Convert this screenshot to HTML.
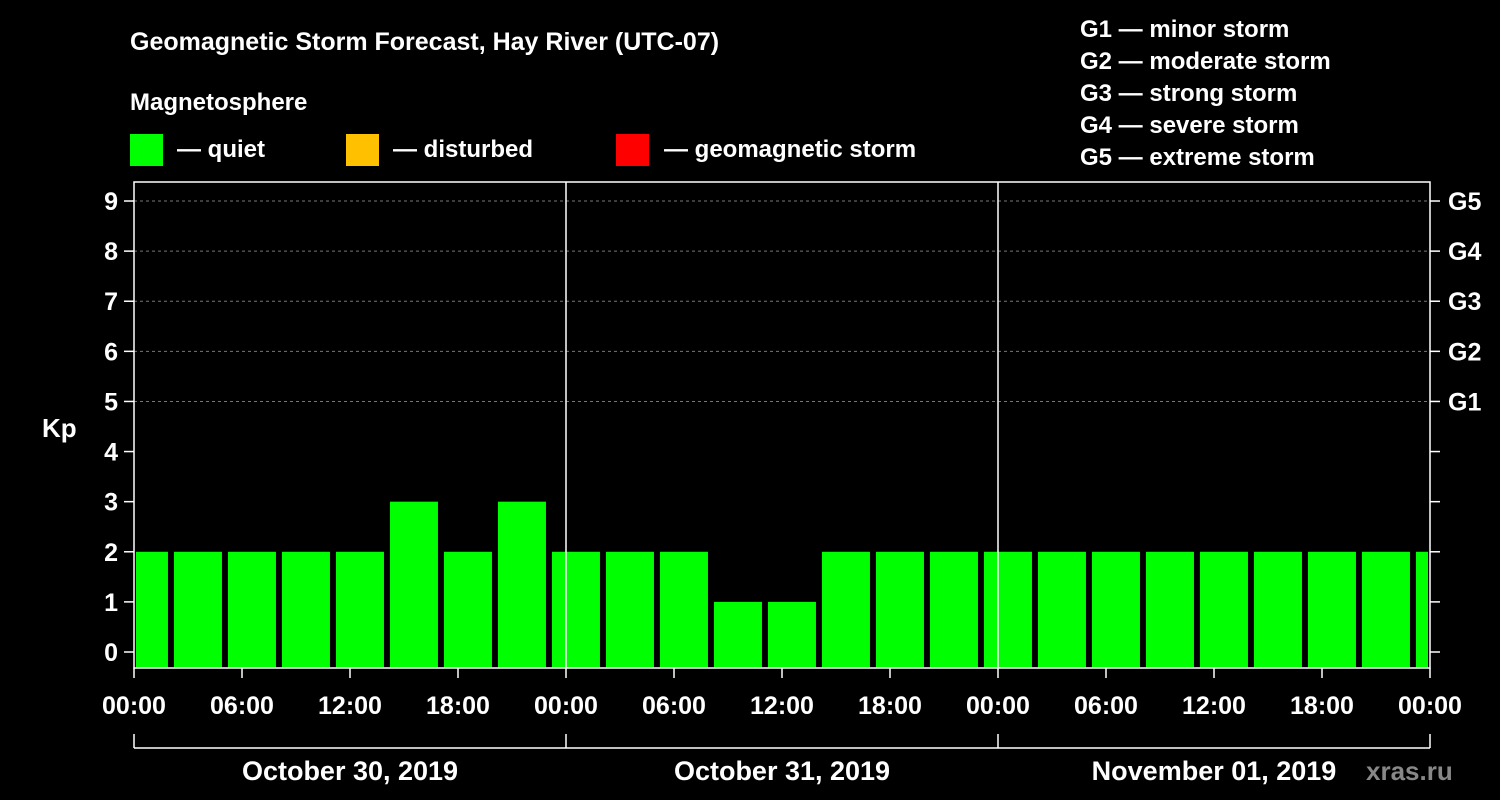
<!DOCTYPE html>
<html><head><meta charset="utf-8"><style>
html,body{margin:0;padding:0;background:#000;}
svg{display:block;font-family:"Liberation Sans",Arial,sans-serif;font-weight:bold;}
</style></head><body>
<svg id="chart" width="1500" height="800" viewBox="0 0 1500 800">
<rect width="1500" height="800" fill="#000"/>
<text x="130" y="50" fill="#fff" font-size="25">Geomagnetic Storm Forecast, Hay River (UTC-07)</text>
<text x="130" y="110" fill="#fff" font-size="24">Magnetosphere</text>
<g><rect x="130" y="134" width="33" height="32" fill="#00ff00"/><text x="177" y="157" fill="#fff" font-size="24">— quiet</text></g>
<g><rect x="346" y="134" width="33" height="32" fill="#ffc000"/><text x="393" y="157" fill="#fff" font-size="24">— disturbed</text></g>
<g><rect x="616" y="134" width="33" height="32" fill="#ff0000"/><text x="664" y="157" fill="#fff" font-size="24">— geomagnetic storm</text></g>
<g fill="#fff" font-size="24">
<text x="1080" y="37">G1 — minor storm</text>
<text x="1080" y="69">G2 — moderate storm</text>
<text x="1080" y="101">G3 — strong storm</text>
<text x="1080" y="133">G4 — severe storm</text>
<text x="1080" y="165">G5 — extreme storm</text>
</g>
<text x="42" y="437" fill="#fff" font-size="26">Kp</text>
<text x="1366" y="780" fill="#888" font-size="26">xras.ru</text>
<g id="plot"></g>
</svg>
<script>
const kpValues=[2,2,2,2,2,3,2,3,2,2,2,1,1,2,2,2,2,2,2,2,2,2,2,2,2];
const yTicks=[0,1,2,3,4,5,6,7,8,9];
const gLabels=["G1","G2","G3","G4","G5"];
const xTickLabels=["00:00","06:00","12:00","18:00","00:00","06:00","12:00","18:00","00:00","06:00","12:00","18:00","00:00"];
const dayLabels=["October 30, 2019","October 31, 2019","November 01, 2019"];
const NS="http://www.w3.org/2000/svg";
const L=134,R=1430,T=182,B=668;
const y=v=>652-v*50.11;
const x=h=>L+h*18;
const g=document.getElementById('plot');
function mk(t,a,p){const e=document.createElementNS(NS,t);for(const k in a)e.setAttribute(k,a[k]);(p||g).appendChild(e);return e;}
// grid dashed
for(let v=5;v<=9;v++){const e=mk('line',{x1:L,x2:R,y1:y(v),y2:y(v),stroke:'#777','stroke-dasharray':'3,3'});

}
// bars
kpValues.forEach((v,i)=>{let x0=x(i*3-0.78),x1=x0+48;x0=Math.max(x0,L+2);x1=Math.min(x1,R-2);
const c=v>=5?'#ff0000':(v>=4?'#ffc000':'#00ff00');
const e=mk('rect',{x:x0,y:y(v),width:x1-x0,height:B-y(v),fill:c});

});
// frame & day dividers
const fr=mk('rect',{x:L,y:T,width:R-L,height:B-T,fill:'none',stroke:'#fff','stroke-width':1.5});


for(let d=1;d<3;d++){const e=mk('line',{x1:x(d*24),x2:x(d*24),y1:T,y2:B,stroke:'#fff','stroke-width':1.5});

}
// y ticks
yTicks.forEach(v=>{mk('line',{x1:L-10,x2:L,y1:y(v),y2:y(v),stroke:'#fff','stroke-width':1.5});
mk('line',{x1:R,x2:R+10,y1:y(v),y2:y(v),stroke:'#fff','stroke-width':1.5});
const t=mk('text',{x:L-16,y:y(v)+9,fill:'#fff','font-size':25,'text-anchor':'end'});t.textContent=v;

});
gLabels.forEach((s,i)=>{const t=mk('text',{x:1448,y:y(5+i)+9,fill:'#fff','font-size':25});t.textContent=s;

});
// x ticks
xTickLabels.forEach((s,i)=>{const xx=x(i*6);mk('line',{x1:xx,x2:xx,y1:B,y2:B+10,stroke:'#fff','stroke-width':1.5});
const t=mk('text',{x:xx,y:714,fill:'#fff','font-size':25,'text-anchor':'middle'});t.textContent=s;

});
// date bracket
mk('line',{x1:L,x2:R,y1:748,y2:748,stroke:'#fff','stroke-width':1.5});
for(let d=0;d<=3;d++)mk('line',{x1:x(d*24),x2:x(d*24),y1:734,y2:748,stroke:'#fff','stroke-width':1.5});
dayLabels.forEach((s,i)=>{const t=mk('text',{x:x(i*24+12),y:780,fill:'#fff','font-size':27,'text-anchor':'middle'});t.textContent=s;

});
</script>
</body></html>
